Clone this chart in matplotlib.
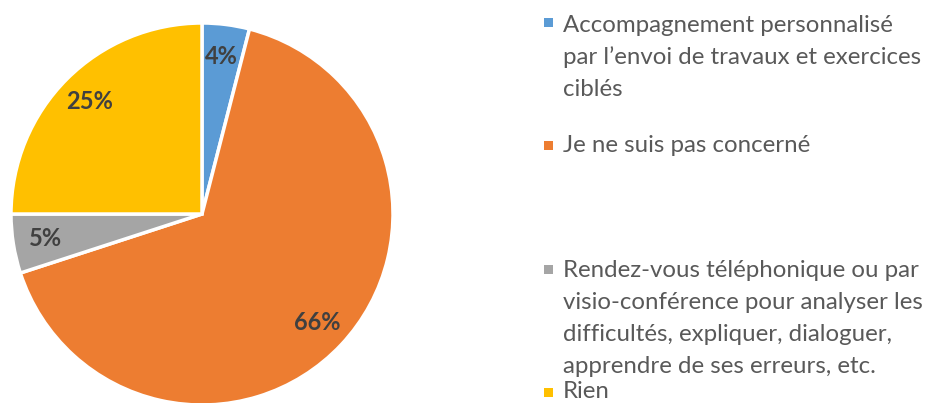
import matplotlib
matplotlib.use("Agg")
import matplotlib.pyplot as plt
from matplotlib.patches import Rectangle

# survey answers, clockwise from 12 o'clock
labels = [
    "Accompagnement personnalisé\npar l’envoi de travaux et exercices\nciblés",
    "Je ne suis pas concerné",
    "Rendez-vous téléphonique ou par\nvisio-conférence pour analyser les\ndifficultés, expliquer, dialoguer,\napprendre de ses erreurs, etc.",
    "Rien",
]
shares = [4, 66, 5, 25]
colors = ["#5B9BD5", "#ED7D31", "#A5A5A5", "#FFC000"]

W, H = 936, 403
plt.rcParams["font.family"] = ["Lato", "DejaVu Sans"]

fig = plt.figure(figsize=(W / 100, H / 100), dpi=100)
fig.patch.set_facecolor("white")

# pie: center ~(202, 214) px, radius ~191 px
cx, cy, r = 202, 214, 191
ax = fig.add_axes([(cx - r) / W, (H - cy - r) / H, 2 * r / W, 2 * r / H])
wedges, _, autotexts = ax.pie(
    shares, colors=colors, startangle=90, counterclock=False,
    autopct=lambda p: f"{p:.0f}%", pctdistance=0.83,
    wedgeprops=dict(edgecolor="white", linewidth=2.5),
    textprops=dict(fontsize=17, fontweight="bold", color="#404040"),
)
for w in wedges:
    w.set_clip_on(False)
ax.set_xlim(-1, 1)
ax.set_ylim(-1, 1)
ax.axis("off")

# legend drawn on a pixel-coordinate overlay; y of the first line's baseline
lg = fig.add_axes([0, 0, 1, 1], facecolor="none")
lg.set_xlim(0, W)
lg.set_ylim(H, 0)
lg.axis("off")
first_base = [32, 152, 277, 398]
marks = [22, 145, 269, 392]
step = 32
for lab, col, yb, ym in zip(labels, colors, first_base, marks):
    lg.add_patch(Rectangle((544, ym - 4.5), 9, 9, color=col, lw=0))
    for i, line in enumerate(lab.split("\n")):
        lg.text(563, yb + i * step, line, fontsize=17.3, color="#595959",
                va="baseline", ha="left")

fig.savefig("out.png", dpi=100, facecolor="white")
